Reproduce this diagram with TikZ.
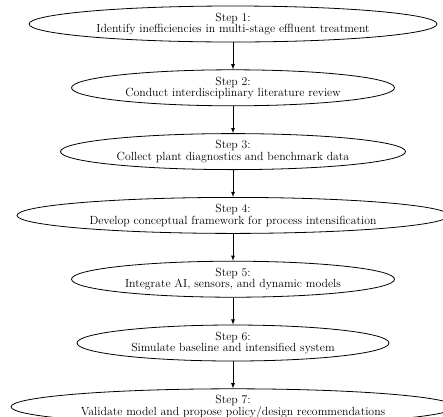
\documentclass[tikz,border=0pt]{standalone}
\usepackage{tikz}
\usetikzlibrary{shapes.geometric,arrows,positioning}

\begin{document}
\begin{tikzpicture}[node distance=27pt,
  every node/.style={align=center,font=\fontsize{11.8}{11.3}\selectfont},
  stepnode/.style={draw,ellipse,inner sep=0pt,minimum height=36pt,line width=0.8pt},
  arrow/.style={-latex,line width=0.8pt}]
  \useasboundingbox (0,0) rectangle (443pt,-416pt);
  \node[stepnode,minimum width=408pt] (s1) at (233pt,-24pt) {Step 1:\\Identify inefficiencies in multi-stage effluent treatment};
  \node[stepnode,minimum width=323pt,below=of s1] (s2) {Step 2:\\Conduct interdisciplinary literature review};
  \node[stepnode,minimum width=345pt,below=of s2] (s3) {Step 3:\\Collect plant diagnostics and benchmark data};
  \node[stepnode,minimum width=432pt,below=of s3] (s4) {Step 4:\\Develop conceptual framework for process intensification};
  \node[stepnode,minimum width=323pt,below=of s4] (s5) {Step 5:\\Integrate AI, sensors, and dynamic models};
  \node[stepnode,minimum width=312pt,below=of s5] (s6) {Step 6:\\Simulate baseline and intensified system};
  \node[stepnode,minimum width=444pt,below=of s6] (s7) {Step 7:\\Validate model and propose policy/design recommendations};
  \draw[arrow] (s1)--(s2); \draw[arrow] (s2)--(s3);
  \draw[arrow] (s3)--(s4); \draw[arrow] (s4)--(s5);
  \draw[arrow] (s5)--(s6); \draw[arrow] (s6)--(s7);
\end{tikzpicture}
\end{document}
